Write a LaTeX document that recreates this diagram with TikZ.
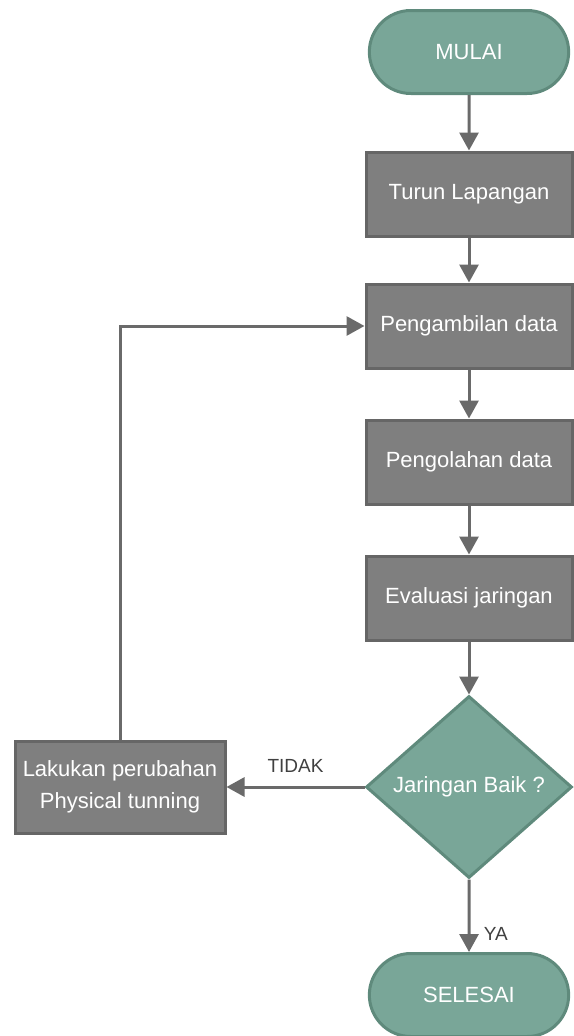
\documentclass[tikz,border=0pt]{standalone}
\usepackage{fontspec}
\setmainfont{Liberation Sans}
\usetikzlibrary{shapes.misc,shapes.geometric,arrows.meta}
\definecolor{hijau}{HTML}{79A698}
\definecolor{hijaugaris}{HTML}{5F8A7C}
\definecolor{abu}{HTML}{7F7F7F}
\definecolor{abugaris}{HTML}{666666}
\definecolor{panah}{HTML}{6A6A6A}
\definecolor{teks}{HTML}{404040}

\begin{document}
\begin{tikzpicture}[x=1pt,y=-1pt,
    font=\fontsize{22}{32}\selectfont,
    mulai/.style={rounded rectangle,draw=hijaugaris,fill=hijau,line width=3pt,text=white,minimum width=206pt,minimum height=83pt},
    proses/.style={rectangle,draw=abugaris,fill=abu,line width=3pt,text=white,minimum width=206pt,minimum height=84pt,align=center},
    cek/.style={diamond,draw=hijaugaris,fill=hijau,line width=3pt,text=white,minimum width=206pt,minimum height=182pt,inner sep=0pt},
    panah/.style={draw=panah,line width=3pt,-{Triangle[length=18pt,width=19pt]}},
    label/.style={text=teks,font=\fontsize{19}{22}\selectfont}]
    \useasboundingbox (0,0) rectangle (573,1036);
    \node[mulai] (mulai) at (469,52) {MULAI};
    \node[proses] (turun) at (469,194) {Turun Lapangan};
    \node[proses] (ambil) at (469,326) {Pengambilan data};
    \node[proses] (olah) at (469,462) {Pengolahan data};
    \node[proses] (eval) at (469,598) {Evaluasi jaringan};
    \node[cek] (baik) at (469,787) {Jaringan Baik ?};
    \node[proses,minimum width=210pt,minimum height=92pt] (ubah) at (120,787) {Lakukan perubahan\\Physical tunning};
    \node[mulai] (selesai) at (469,995) {SELESAI};
    \draw[panah] (mulai) -- (turun);
    \draw[panah] (turun) -- (ambil);
    \draw[panah] (ambil) -- (olah);
    \draw[panah] (olah) -- (eval);
    \draw[panah] (eval) -- (baik);
    \draw[panah] (baik) -- node[label,pos=0.5,above=10pt]{TIDAK} (ubah);
    \draw[panah] (ubah.north) |- (ambil.west);
    \draw[panah] (baik) -- node[label,pos=0.75,right=10pt]{YA} (selesai);
\end{tikzpicture}
\end{document}
